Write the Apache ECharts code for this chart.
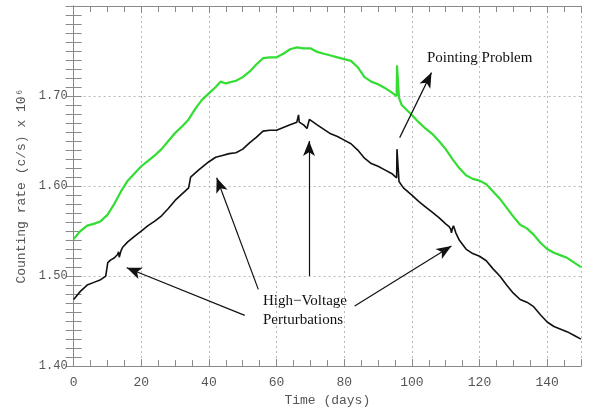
<!DOCTYPE html>
<html>
<head>
<meta charset="utf-8">
<script src="https://cdn.jsdelivr.net/npm/echarts@6/dist/echarts.min.js"></script>
<style>
html,body{margin:0;padding:0;background:#fff;}
#chart{width:589px;height:412px;}
</style>
</head>
<body>
<div id="chart"></div>
<script>
// Upper (green) curve: [day, rate]
const greenDays = [0,2,4,6,8,10,12,14,16,18,20,22,24,26,28,30,32,34,36,38,40,42,43.5,45,48,50,52,54,56,58,60,62,64,66,68,70,72,74,76,78,80,82,84,86,88,90,92,94,95.5,95.6,96.2,97,100,102,104,106,108,110,112,114,116,118,120,122,124,126,128,130,132,134,136,138,140,142,144,146,148,150];
const greenVals = [1.541,1.550,1.556,1.558,1.561,1.568,1.580,1.594,1.606,1.614,1.622,1.628,1.634,1.641,1.650,1.659,1.666,1.674,1.686,1.696,1.703,1.710,1.716,1.714,1.717,1.721,1.727,1.735,1.742,1.743,1.743,1.747,1.752,1.754,1.753,1.753,1.749,1.747,1.745,1.743,1.741,1.739,1.732,1.721,1.716,1.713,1.709,1.704,1.700,1.734,1.698,1.690,1.679,1.671,1.664,1.658,1.650,1.641,1.630,1.620,1.612,1.608,1.606,1.602,1.594,1.586,1.576,1.566,1.557,1.553,1.546,1.537,1.530,1.526,1.523,1.520,1.515,1.510];

// Lower (black) curve: [day, rate]
const blackDays = [0,2,4,6,8,9.5,10,10.1,10.5,11,12,12.5,13,13.3,13.5,14,14.5,16,18,20,22,24,26,28,30,32,34,34.5,34.6,35,35.5,36,37,38,40,42,44,46,48,50,52,54,56,58,60,62,64,66,66.5,66.7,68,69,69.5,69.7,70,72,74,76,78,80,82,84,86,88,90,92,94,95.5,95.6,96.2,97.5,100,102,104,106,108,110,111,111.5,111.7,112,112.3,113,114,115,116,118,120,122,124,126,128,130,132,134,136,138,140,142,144,146,148,150];
const blackVals = [1.474,1.483,1.490,1.493,1.496,1.500,1.502,1.515,1.514,1.518,1.520,1.522,1.524,1.527,1.521,1.528,1.532,1.538,1.544,1.550,1.556,1.561,1.567,1.575,1.584,1.591,1.598,1.599,1.610,1.609,1.613,1.611,1.618,1.621,1.627,1.632,1.634,1.636,1.637,1.641,1.648,1.654,1.661,1.662,1.662,1.665,1.668,1.671,1.679,1.671,1.668,1.664,1.666,1.674,1.672,1.668,1.663,1.658,1.655,1.651,1.647,1.640,1.631,1.625,1.622,1.618,1.614,1.609,1.641,1.605,1.598,1.590,1.583,1.577,1.571,1.565,1.558,1.555,1.552,1.548,1.553,1.556,1.548,1.540,1.535,1.530,1.525,1.522,1.517,1.508,1.500,1.490,1.481,1.474,1.471,1.466,1.457,1.449,1.444,1.441,1.438,1.434,1.430];

// Tick values
const xTicks = [0,20,40,60,80,100,120,140];
const yTicks = [1.40,1.50,1.60,1.70];

// Annotation arrows: [fromDay, fromRate, toDay, toRate]
const arrowFrom = [[50.6,1.4563],[54.6,1.4852],[69.6,1.500],[83.1,1.4667],[96.4,1.6538]];
const arrowTo   = [[15.7,1.5093],[42.3,1.6093],[69.6,1.650],[111.7,1.5333],[105.8,1.726]];

const labelHV = ['High\u2212Voltage','Perturbations'];
const labelPP = 'Pointing Problem';

const chart = echarts.init(document.getElementById('chart'), null, {renderer:'canvas'});

const axisCol = '#8a8a8a';
const txtCol = '#555';
const monoFont = '"Liberation Mono", "DejaVu Sans Mono", monospace';
const serifFont = '"Liberation Serif", "DejaVu Serif", serif';

function xAx(pos, labels){
  return {
    type:'value', position:pos, min:0, max:150, interval:20,
    axisLine:{show:true, lineStyle:{color:axisCol, width:1}},
    axisTick:{show:true, inside:true, length:7, lineStyle:{color:axisCol}},
    minorTick:{show:true, splitNumber:4, length:6, lineStyle:{color:axisCol}},
    splitLine:{show:labels, lineStyle:{color:'#b8b8b8', type:[2,3], width:1}},
    axisLabel:{show:labels, color:txtCol, fontFamily:monoFont, fontSize:13, margin:10,
      formatter:v => xTicks.indexOf(v) >= 0 ? String(v) : ''},
    name: labels ? 'Time (days)' : '', nameLocation:'middle', nameGap:26,
    nameTextStyle:{color:txtCol, fontFamily:monoFont, fontSize:13}
  };
}
function yAx(pos, labels){
  return {
    type:'value', position:pos, min:1.40, max:1.80, interval:0.1,
    axisLine:{show:true, lineStyle:{color:axisCol, width:1}},
    axisTick:{show:true, inside:true, length:8, lineStyle:{color:axisCol}},
    minorTick:{show:true, splitNumber:10, length:8, lineStyle:{color:axisCol}},
    splitLine:{show:labels, lineStyle:{color:'#b8b8b8', type:[2,3], width:1}},
    axisLabel:{show:labels, color:txtCol, fontFamily:monoFont, fontSize:12, margin:6, showMaxLabel:false,
      formatter:v => { const s = v.toFixed(2); return yTicks.some(t => t.toFixed(2) === s) ? s : ''; }},
    name: labels ? 'Counting rate (c/s) x 10\u2076' : '', nameLocation:'middle', nameGap:44,
    nameTextStyle:{color:txtCol, fontFamily:monoFont, fontSize:13}
  };
}

const arrowData = arrowFrom.map((f,i) => [{coord:f, symbol:'none'},{coord:arrowTo[i], symbol:'arrow', symbolSize:[9,15]}]);

chart.setOption({
  animation:false,
  backgroundColor:'#fff',
  grid:{left:73.6, right:8, top:6, bottom:45.3, containLabel:false},
  xAxis:[xAx('bottom', true), xAx('top', false)],
  yAxis:[yAx('left', true), yAx('right', false)],
  series:[
    {type:'line', name:'green', showSymbol:false, symbol:'none',
      data: greenDays.map((d,i) => [d, greenVals[i]]),
      lineStyle:{color:'#33dd33', width:2.2}, z:3},
    {type:'line', name:'black', showSymbol:false, symbol:'none',
      data: blackDays.map((d,i) => [d, blackVals[i]]),
      lineStyle:{color:'#111', width:1.6}, z:3},
    {type:'line', name:'arrows', data:[], symbol:'none',
      markLine:{silent:true, symbol:['none','arrow'], precision:4,
        label:{show:false}, itemStyle:{color:'#111'}, lineStyle:{color:'#111', width:1.2, type:'solid'},
        emphasis:{disabled:true}, data: arrowData}}
  ],
  graphic:[
    {type:'text', left:263, top:292, style:{text:labelHV.join('\n'), font:'15px ' + serifFont, fill:'#111', textAlign:'left', lineHeight:19}},
    {type:'text', left:427, top:51, style:{text:labelPP, font:'15px ' + serifFont, fill:'#111'}}
  ]
});
</script>
</body>
</html>
